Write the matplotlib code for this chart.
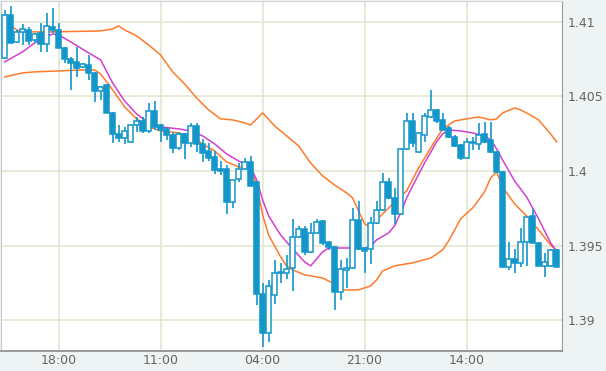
import matplotlib
matplotlib.use("Agg")
import matplotlib.pyplot as plt
from matplotlib.ticker import FormatStrFormatter

# hourly candles
opens = [1.40758, 1.41046, 1.40866, 1.40933, 1.40946, 1.40879, 1.40926, 1.40852, 1.40966, 1.40946,
         1.40825, 1.40752, 1.40732, 1.40698, 1.40711, 1.40658, 1.40537, 1.40577, 1.40390, 1.40249,
         1.40222, 1.40196, 1.40309, 1.40336, 1.40269, 1.40403, 1.40309, 1.40283, 1.40242, 1.40155,
         1.40249, 1.40189, 1.40303, 1.40182, 1.40135, 1.40095, 1.40015, 1.40015, 1.39794, 1.39948,
         1.40015, 1.40062, 1.39928, 1.39177, 1.38916, 1.39170, 1.39318, 1.39318, 1.39351, 1.39559,
         1.39613, 1.39459, 1.39586, 1.39666, 1.39526, 1.39492, 1.39191, 1.39338, 1.39351, 1.39673,
         1.39485, 1.39479, 1.39653, 1.39740, 1.39928, 1.39820, 1.39713, 1.40149, 1.40336, 1.40129,
         1.40242, 1.40363, 1.40410, 1.40343, 1.40289, 1.40229, 1.40175, 1.40088, 1.40189, 1.40182,
         1.40249, 1.40209, 1.40129, 1.39995, 1.39358, 1.39412, 1.39385, 1.39526, 1.39700, 1.39519,
         1.39365, 1.39365, 1.39472]
highs = [1.41080, 1.41107, 1.40946, 1.40986, 1.40966, 1.40926, 1.40993, 1.41060, 1.41093, 1.40993,
         1.40832, 1.40765, 1.40832, 1.40725, 1.40778, 1.40665, 1.40571, 1.40584, 1.40397, 1.40309,
         1.40296, 1.40309, 1.40363, 1.40363, 1.40457, 1.40470, 1.40316, 1.40296, 1.40263, 1.40263,
         1.40256, 1.40323, 1.40323, 1.40216, 1.40189, 1.40135, 1.40068, 1.40041, 1.39941, 1.40055,
         1.40088, 1.40102, 1.39934, 1.39251, 1.39271, 1.39405, 1.39385, 1.39438, 1.39680, 1.39633,
         1.39633, 1.39653, 1.39680, 1.39673, 1.39532, 1.39499, 1.39405, 1.39418, 1.39753, 1.39800,
         1.39492, 1.39693, 1.39800, 1.39988, 1.39954, 1.39887, 1.40155, 1.40390, 1.40390, 1.40263,
         1.40390, 1.40544, 1.40417, 1.40390, 1.40303, 1.40242, 1.40182, 1.40222, 1.40229, 1.40323,
         1.40330, 1.40330, 1.40135, 1.40001, 1.39526, 1.39479, 1.39619, 1.39693, 1.39747, 1.39526,
         1.39452, 1.39479, 1.39479]
lows = [1.40752, 1.40859, 1.40859, 1.40845, 1.40845, 1.40859, 1.40799, 1.40799, 1.40926, 1.40825,
        1.40725, 1.40544, 1.40631, 1.40691, 1.40611, 1.40464, 1.40477, 1.40390, 1.40189, 1.40196,
        1.40182, 1.40189, 1.40263, 1.40256, 1.40256, 1.40276, 1.40196, 1.40209, 1.40122, 1.40142,
        1.40082, 1.40162, 1.40129, 1.40062, 1.40068, 1.39981, 1.39974, 1.39713, 1.39753, 1.39928,
        1.40008, 1.39901, 1.39103, 1.38822, 1.38856, 1.39110, 1.39251, 1.39278, 1.39197, 1.39552,
        1.39438, 1.39452, 1.39579, 1.39505, 1.39472, 1.39070, 1.39137, 1.39217, 1.39345, 1.39472,
        1.39318, 1.39378, 1.39646, 1.39733, 1.39814, 1.39646, 1.39706, 1.40142, 1.40162, 1.40122,
        1.40196, 1.40356, 1.40323, 1.40269, 1.40222, 1.40162, 1.40075, 1.40082, 1.40142, 1.40142,
        1.40189, 1.40122, 1.39988, 1.39351, 1.39338, 1.39318, 1.39358, 1.39365, 1.39519, 1.39365,
        1.39291, 1.39358, 1.39358]
closes = [1.41046, 1.40859, 1.40933, 1.40953, 1.40872, 1.40919, 1.40852, 1.40973, 1.40946, 1.40825,
          1.40752, 1.40725, 1.40691, 1.40718, 1.40658, 1.40537, 1.40564, 1.40390, 1.40249, 1.40222,
          1.40269, 1.40309, 1.40336, 1.40269, 1.40403, 1.40296, 1.40276, 1.40242, 1.40155, 1.40249,
          1.40189, 1.40303, 1.40182, 1.40122, 1.40088, 1.40008, 1.40001, 1.39794, 1.39941, 1.40015,
          1.40062, 1.39901, 1.39177, 1.38916, 1.39231, 1.39318, 1.39325, 1.39345, 1.39559, 1.39613,
          1.39459, 1.39586, 1.39660, 1.39519, 1.39492, 1.39191, 1.39345, 1.39351, 1.39673, 1.39479,
          1.39465, 1.39653, 1.39740, 1.39928, 1.39820, 1.39713, 1.40149, 1.40336, 1.40189, 1.40256,
          1.40370, 1.40410, 1.40336, 1.40276, 1.40229, 1.40169, 1.40088, 1.40196, 1.40196, 1.40242,
          1.40196, 1.40129, 1.39995, 1.39358, 1.39412, 1.39385, 1.39526, 1.39693, 1.39519, 1.39365,
          1.39392, 1.39472, 1.39358]

# moving average (magenta), sampled at candle indices
ma_idx = [0, 3, 5, 7, 8, 9, 11, 14, 16, 18, 20, 22, 24, 26, 29, 31, 33, 35, 37, 39, 41, 42, 43, 44,
          46, 48, 50, 51, 52, 53, 54, 58, 60, 61, 62, 64, 65, 66, 67, 68, 70, 72, 73, 74, 76, 78, 80,
          81, 82, 83, 85, 87, 88, 89, 91, 92]
ma_vals = [1.40732, 1.40799, 1.40859, 1.40899, 1.40919, 1.40912, 1.40866, 1.40792, 1.40745, 1.40591,
           1.40470, 1.40383, 1.40323, 1.40296, 1.40283, 1.40269, 1.40236, 1.40182, 1.40115, 1.40068,
           1.40028, 1.39941, 1.39807, 1.39700, 1.39572, 1.39479, 1.39392, 1.39365, 1.39412, 1.39459,
           1.39485, 1.39485, 1.39479, 1.39499, 1.39539, 1.39586, 1.39633, 1.39720, 1.39820, 1.39901,
           1.40055, 1.40196, 1.40249, 1.40276, 1.40269, 1.40256, 1.40236, 1.40209, 1.40149, 1.40075,
           1.39934, 1.39827, 1.39753, 1.39680, 1.39519, 1.39465]

# upper band (orange)
up_idx = [0, 1, 2, 3, 8, 16, 18, 19, 20, 22, 24, 26, 28, 30, 32, 34, 36, 38, 40, 41, 43, 45, 47, 49,
          51, 53, 55, 57, 58, 60, 61, 62, 64, 66, 67, 69, 71, 73, 75, 77, 79, 81, 82, 83, 85, 86, 87,
          89, 90, 91, 92]
up_vals = [1.40986, 1.40973, 1.40946, 1.40933, 1.40933, 1.40939, 1.40953, 1.40973, 1.40946, 1.40906,
           1.40845, 1.40778, 1.40665, 1.40584, 1.40490, 1.40410, 1.40350, 1.40343, 1.40323, 1.40309,
           1.40390, 1.40303, 1.40236, 1.40169, 1.40055, 1.39968, 1.39907, 1.39854, 1.39820, 1.39646,
           1.39626, 1.39673, 1.39753, 1.39834, 1.39867, 1.40021, 1.40155, 1.40283, 1.40336, 1.40350,
           1.40363, 1.40343, 1.40350, 1.40390, 1.40423, 1.40410, 1.40390, 1.40343, 1.40296, 1.40249,
           1.40196]

# lower band (orange)
lo_idx = [0, 3, 5, 9, 13, 15, 16, 17, 18, 20, 22, 24, 26, 29, 31, 33, 35, 37, 39, 41, 42, 43, 44,
          46, 47, 48, 50, 53, 55, 56, 59, 61, 62, 63, 65, 66, 68, 71, 73, 74, 75, 76, 78, 80, 81, 82,
          83, 85, 87, 89, 91, 92]
lo_vals = [1.40631, 1.40658, 1.40665, 1.40671, 1.40678, 1.40678, 1.40651, 1.40598, 1.40544, 1.40430,
           1.40350, 1.40296, 1.40269, 1.40256, 1.40236, 1.40182, 1.40135, 1.40062, 1.40028, 1.40021,
           1.39907, 1.39706, 1.39572, 1.39425, 1.39365, 1.39338, 1.39305, 1.39284, 1.39244, 1.39204,
           1.39204, 1.39231, 1.39271, 1.39331, 1.39365, 1.39372, 1.39385, 1.39418, 1.39472, 1.39532,
           1.39606, 1.39680, 1.39753, 1.39861, 1.39954, 1.39995, 1.39894, 1.39780, 1.39700, 1.39606,
           1.39505, 1.39465]

time_ticks = [9, 26, 43, 60, 77]
time_labels = ["18:00", "11:00", "04:00", "21:00", "14:00"]
price_ticks = [1.39, 1.395, 1.4, 1.405, 1.41]

blue = "#1396c9"
plt.rcParams["font.family"] = ["DejaVu Sans"]

fig = plt.figure(figsize=(6.06, 3.71), dpi=100, facecolor="#eef4f4")
ax = fig.add_axes([0.0017, 0.054, 0.9257, 0.9434])
ax.set_facecolor("white")

ax.plot(up_idx, up_vals, color="#ff7a2a", lw=1.1, zorder=2)
ax.plot(lo_idx, lo_vals, color="#ff7a2a", lw=1.1, zorder=2)
ax.plot(ma_idx, ma_vals, color="#d23fd2", lw=1.1, zorder=2)

x = list(range(len(opens)))
ax.vlines(x, lows, highs, color=blue, lw=1.2, zorder=3)
for i in x:
    o, c = opens[i], closes[i]
    bottom = min(o, c)
    height = max(abs(c - o), 0.00005)
    face = "white" if c >= o else blue
    ax.bar(i, height, bottom=bottom, width=0.72, color=face, edgecolor=blue,
           linewidth=1.1, zorder=4)

ax.set_xlim(-0.6, 92.9)
ax.set_ylim(1.38795, 1.4114)

ax.set_xticks(time_ticks)
ax.set_xticklabels(time_labels)
ax.set_yticks(price_ticks)
ax.yaxis.set_major_formatter(FormatStrFormatter("%g"))
ax.yaxis.tick_right()
ax.tick_params(length=0, labelsize=9, colors="#666666")
ax.tick_params(axis="y", pad=4)
ax.tick_params(axis="x", pad=2)
ax.grid(True, color="#e1e7d2", lw=1.2, zorder=0)
ax.set_axisbelow(True)

ax.spines["top"].set_color("#d4d4d4")
ax.spines["left"].set_color("#c8c8c8")
ax.spines["right"].set_color("#999999")
ax.spines["bottom"].set_color("#888888")
ax.spines["bottom"].set_linewidth(1.2)

fig.savefig("out.png", dpi=100, facecolor=fig.get_facecolor())
plt.close(fig)
